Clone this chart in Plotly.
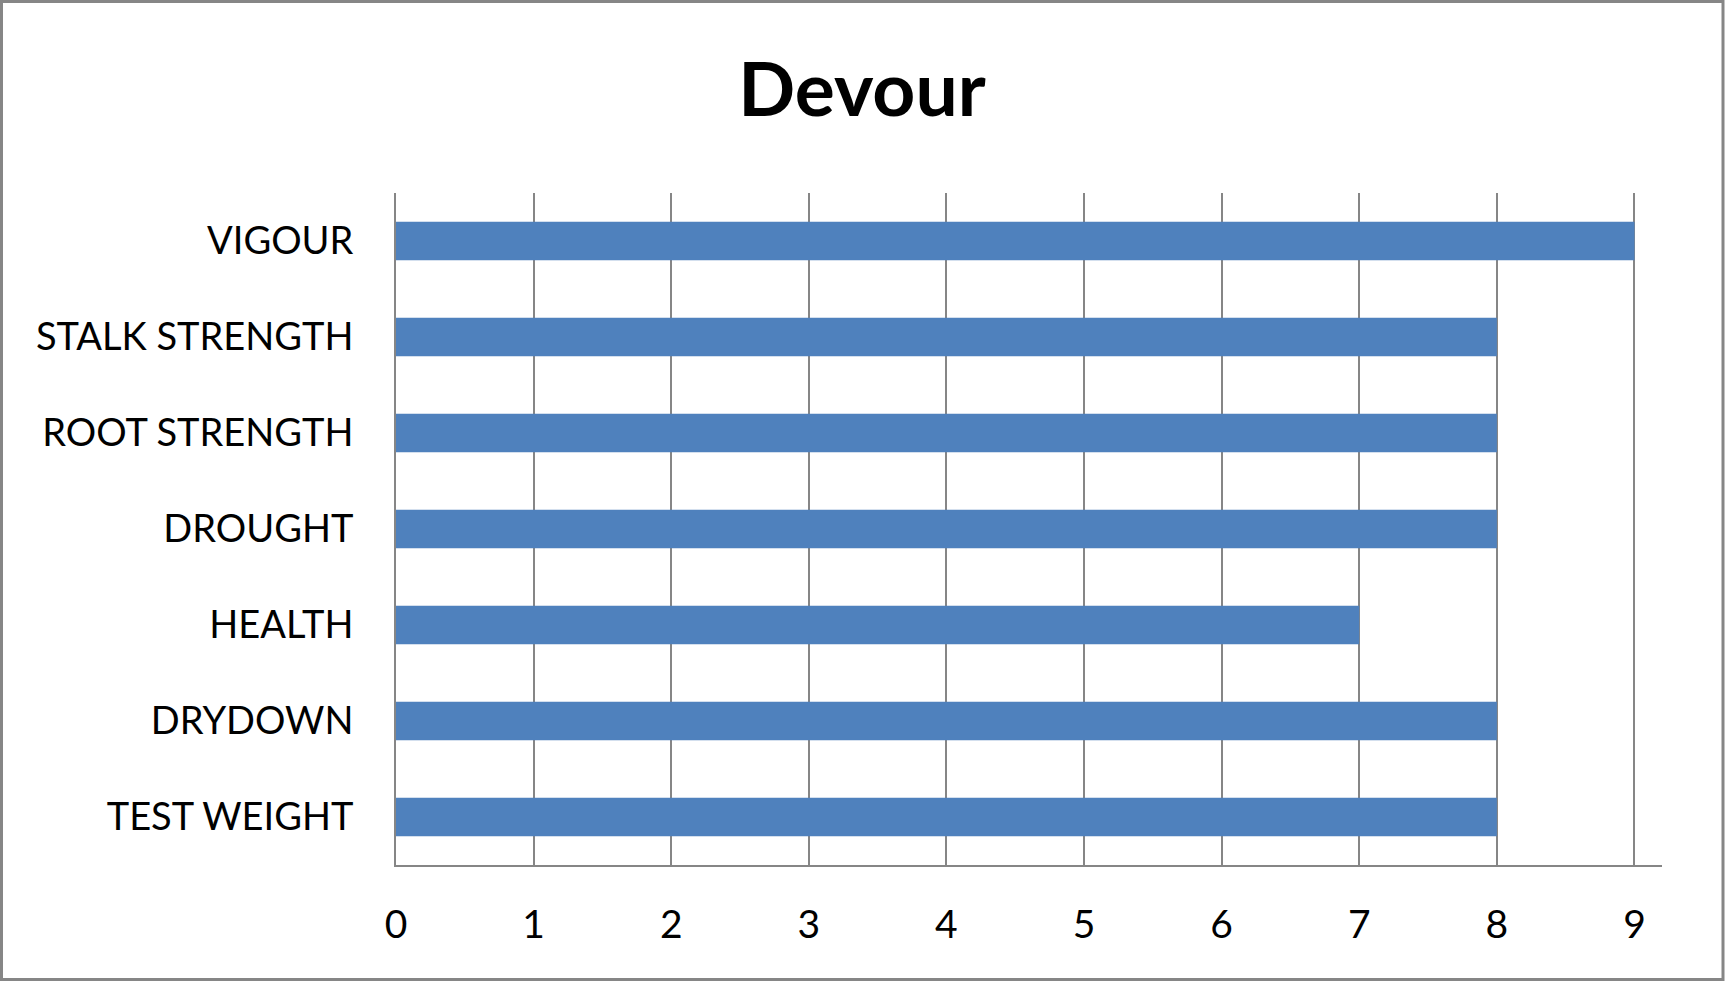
"""Horizontal bar chart of trait ratings for the Devour hybrid."""

import plotly.graph_objects as go

# data, listed top to bottom as they appear on the chart
TRAITS = ["VIGOUR", "STALK STRENGTH", "ROOT STRENGTH", "DROUGHT",
          "HEALTH", "DRYDOWN", "TEST WEIGHT"]
SCORES = [9, 8, 8, 8, 7, 8, 8]
TICKS = [0, 1, 2, 3, 4, 5, 6, 7, 8, 9]

BAR_BLUE = "#4F81BD"
GREY = "#868686"
FONT = "Lato, 'Open Sans', sans-serif"

W, H = 1726, 982
L, R, T, B = 396, 64, 193, 117
PW, PH = W - L - R, H - T - B


def px_to_paper_x(px):
    return (px - L) / PW


def px_to_paper_y(py):
    return (H - B - py) / PH


fig = go.Figure(go.Bar(
    x=SCORES, y=TRAITS, orientation="h",
    marker=dict(color=BAR_BLUE, line=dict(width=0)),
    hovertemplate="%{y}: %{x}<extra></extra>",
))

fig.update_layout(
    width=W, height=H,
    margin=dict(l=L, r=R, t=T, b=B),
    paper_bgcolor="white", plot_bgcolor="white",
    bargap=0.6, showlegend=False,
    font=dict(family=FONT, color="black", size=38),
    title=dict(text="<b>Devour</b>", x=862 / W, xanchor="center",
               y=1 - 90 / H, yanchor="middle",
               font=dict(family=FONT, size=75, color="black")),
)

fig.update_xaxes(
    range=[0, 9.2], tickvals=TICKS, showgrid=True, gridcolor=GREY, gridwidth=2,
    showline=True, linecolor=GREY, linewidth=2, zeroline=False,
    ticks="outside", ticklen=24, tickcolor="rgba(0,0,0,0)",
    tickfont=dict(size=39), fixedrange=True,
)
fig.update_yaxes(
    categoryorder="array", categoryarray=TRAITS[::-1],
    showgrid=False, showline=True, linecolor=GREY, linewidth=2,
    ticks="outside", ticklen=33, tickcolor="rgba(0,0,0,0)",
    tickfont=dict(size=38), fixedrange=True,
)

# outer chart border like the spreadsheet chart frame
fig.add_shape(
    type="rect", xref="paper", yref="paper",
    x0=px_to_paper_x(1.5), x1=px_to_paper_x(W - 3),
    y0=px_to_paper_y(H - 2.5), y1=px_to_paper_y(1.5),
    line=dict(color=GREY, width=3), fillcolor="rgba(0,0,0,0)", layer="below",
)

# drop the browser's default page margin so the chart sits flush in the window
fig.write_html("out.html", config={"displayModeBar": False},
               post_script="document.body.style.margin='0';")
